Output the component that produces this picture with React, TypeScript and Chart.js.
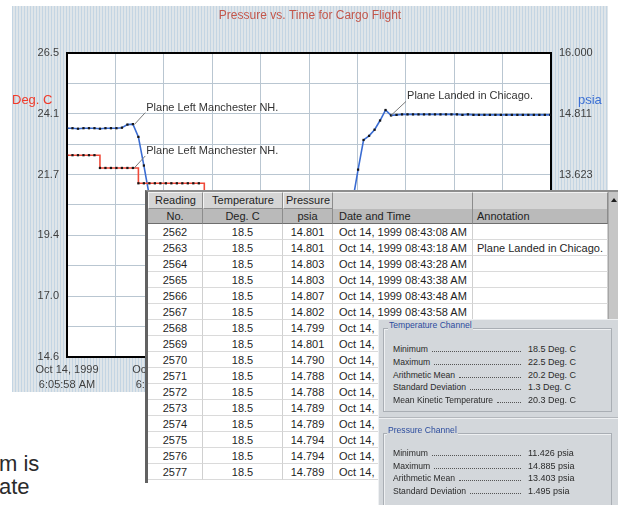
import React, { useEffect, useRef } from "react";
import { Chart, registerables } from "chart.js";

Chart.register(...registerables);
Chart.defaults.font.family = 'Arial, "Liberation Sans", sans-serif';

const chartTitle = "Pressure vs. Time for Cargo Flight";
const tempAxisTitle = "Deg. C";
const pressAxisTitle = "psia";

// seconds after Oct 14, 1999 6:05:58 AM
const sampleSeconds = [
  0, 160, 320, 480, 640, 800, 960, 1120, 1280, 1440,
  1600, 1760, 1920, 2080, 2240, 2400, 2560, 2720, 2880, 3040,
  3200, 3360, 3520, 3680, 3840, 4000, 4160, 4320, 4480, 4640,
  4800, 4960, 5120, 5280, 5440, 5600, 5760, 5920, 6080, 6240,
  6400, 6560, 6720, 6880, 7040, 7200, 7360, 7520, 7680, 7840,
  8000, 8160, 8320, 8480, 8640, 8800, 8960, 9120, 9280, 9440,
  9600, 9760, 9920, 10080, 10240, 10400, 10560, 10720, 10880, 11040,
  11200, 11360, 11520, 11680, 11840, 12000, 12160, 12320, 12480, 12640,
  12800, 12960, 13120, 13280, 13440, 13600, 13760, 13920, 14080,
];

const temperatureDegC = [
  22.5, 22.5, 22.5, 22.5, 22.5, 22.5, 22.0, 22.0, 22.0, 22.0,
  22.0, 22.0, 22.0, 21.4, 21.4, 21.4, 21.4, 21.4, 21.4, 21.4,
  21.4, 21.4, 21.4, 21.4, 21.4, 21.0, 21.0, 21.0, 21.0, 21.0,
  21.0, 21.0, 21.0, 21.0, 21.0, 21.0, 21.0, 21.0, 21.0, 20.5,
  20.5, 20.5, 20.5, 20.5, 20.5, 20.5, 20.5, 20.5, 19.6, 19.6,
  19.6, 19.6, 19.6, 19.6, 19.6, 18.5, 18.5, 18.5, 18.5, 18.5,
  18.5, 18.5, 18.5, 18.5, 18.5, 18.5, 18.5, 18.5, 18.5, 18.5,
  18.5, 18.5, 18.5, 18.5, 18.5, 18.5, 18.5, 18.5, 18.5, 18.5,
  18.5, 18.5, 18.5, 18.5, 18.5, 18.5, 18.5, 18.5, 18.5,
];

const pressurePsia = [
  14.53, 14.53, 14.52, 14.53, 14.53, 14.53, 14.52, 14.53, 14.53, 14.53,
  14.54, 14.6, 14.61, 14.36, 13.8, 13.2, 12.6, 12.05, 11.68, 11.52,
  11.47, 11.46, 11.45, 11.44, 11.44, 11.43, 11.43, 11.426, 11.43, 11.44,
  11.45, 11.45, 11.46, 11.46, 11.45, 11.45, 11.44, 11.44, 11.45, 11.46,
  11.47, 11.48, 11.5, 11.52, 11.55, 11.6, 11.66, 11.74, 11.85, 11.98,
  12.2, 12.6, 13.1, 13.72, 14.3, 14.38, 14.5, 14.68, 14.885, 14.78,
  14.79, 14.8, 14.8, 14.8, 14.8, 14.8, 14.8, 14.8, 14.8, 14.8,
  14.8, 14.8, 14.79, 14.8, 14.79, 14.79, 14.79, 14.79, 14.79, 14.79,
  14.79, 14.79, 14.79, 14.79, 14.79, 14.79, 14.79, 14.79, 14.79,
];

const xMinSeconds = 0;
const xMaxSeconds = 14100;
const xTickDates = ["Oct 14, 1999", "Oct 14, 1999", "Oct 14, 1999", "Oct 14, 1999", "Oct 14, 1999", "Oct 14, 1999"];
const xTickTimes = ["6:05:58 AM", "6:52:58 AM", "7:39:58 AM", "8:26:58 AM", "9:13:58 AM", "10:00:58 AM"];

const tempMin = 14.6;
const tempMax = 26.5;
const tempTickLabels = ["14.6", "17.0", "19.4", "21.7", "24.1", "26.5"];
const pressMin = 10.057;
const pressMax = 16.0;
const pressTickLabels = ["10.057", "11.246", "12.434", "13.623", "14.811", "16.000"];

const annotationTexts = ["Plane Left Manchester NH.", "Plane Left Manchester NH.", "Plane Landed in Chicago."];
const annotationSeconds = [1960, 1960, 9440];
const annotationValues = [14.6, 22.0, 14.78];
const annotationAxes = ["yP", "yT", "yP"];

const readingNos = ["2562", "2563", "2564", "2565", "2566", "2567", "2568", "2569", "2570", "2571", "2572", "2573", "2574", "2575", "2576", "2577"];
const readingTemps = ["18.5", "18.5", "18.5", "18.5", "18.5", "18.5", "18.5", "18.5", "18.5", "18.5", "18.5", "18.5", "18.5", "18.5", "18.5", "18.5"];
const readingPress = ["14.801", "14.801", "14.803", "14.803", "14.807", "14.802", "14.799", "14.801", "14.790", "14.788", "14.788", "14.789", "14.789", "14.794", "14.794", "14.789"];
const readingTimes = [
  "Oct 14, 1999 08:43:08 AM", "Oct 14, 1999 08:43:18 AM", "Oct 14, 1999 08:43:28 AM", "Oct 14, 1999 08:43:38 AM",
  "Oct 14, 1999 08:43:48 AM", "Oct 14, 1999 08:43:58 AM", "Oct 14, 1999 08:44:08 AM", "Oct 14, 1999 08:44:18 AM",
  "Oct 14, 1999 08:44:28 AM", "Oct 14, 1999 08:44:38 AM", "Oct 14, 1999 08:44:48 AM", "Oct 14, 1999 08:44:58 AM",
  "Oct 14, 1999 08:45:08 AM", "Oct 14, 1999 08:45:18 AM", "Oct 14, 1999 08:45:28 AM", "Oct 14, 1999 08:45:38 AM",
];
const readingNotes = ["", "Plane Landed in Chicago.", "", "", "", "", "", "", "", "", "", "", "", "", "", ""];

const tempStatLabels = ["Minimum", "Maximum", "Arithmetic Mean", "Standard Deviation", "Mean Kinetic Temperature"];
const tempStatValues = ["18.5 Deg. C", "22.5 Deg. C", "20.2 Deg. C", "1.3 Deg. C", "20.3 Deg. C"];
const pressStatLabels = ["Minimum", "Maximum", "Arithmetic Mean", "Standard Deviation"];
const pressStatValues = ["11.426 psia", "14.885 psia", "13.403 psia", "1.495 psia"];

const FONT = 'Arial, "Liberation Sans", sans-serif';
const GRID = "#b9c6d1";
const TICK = "#3f3f3f";

const gridValues = (min: number, max: number) =>
  Array.from({ length: 11 }, (_, i) => ({ value: min + (i * (max - min)) / 10 }));

const decorPlugin = {
  id: "decor",
  beforeDraw(chart: any) {
    const { ctx, chartArea: a } = chart;
    ctx.save();
    ctx.fillStyle = "#ffffff";
    ctx.fillRect(a.left, a.top, a.right - a.left, a.bottom - a.top);
    ctx.restore();
  },
  beforeDatasetsDraw(chart: any) {
    const { ctx, chartArea: a } = chart;
    ctx.save();
    ctx.strokeStyle = "#000";
    ctx.lineWidth = 2;
    ctx.strokeRect(a.left, a.top, a.right - a.left, a.bottom - a.top);
    ctx.restore();
  },
  afterDatasetsDraw(chart: any) {
    const { ctx, chartArea: a } = chart;
    ctx.save();
    const offs = [[11, -12], [11, -12], [15, -14]];
    annotationTexts.forEach((t, i) => {
      const x = chart.scales.x.getPixelForValue(annotationSeconds[i]);
      const y = chart.scales[annotationAxes[i]].getPixelForValue(annotationValues[i]);
      const ex = x + offs[i][0];
      const ey = y + offs[i][1];
      ctx.strokeStyle = "#7a7a7a";
      ctx.lineWidth = 1;
      ctx.beginPath();
      ctx.moveTo(x, y);
      ctx.lineTo(ex, ey);
      ctx.stroke();
      ctx.fillStyle = "#333";
      ctx.font = `11px ${FONT}`;
      ctx.textBaseline = "middle";
      ctx.textAlign = "left";
      ctx.fillText(t, ex + 1, ey - 5);
    });
    ctx.font = `13px ${FONT}`;
    ctx.textBaseline = "middle";
    ctx.fillStyle = "#f03a2a";
    ctx.textAlign = "left";
    ctx.fillText(tempAxisTitle, a.left - 55, a.top + 47);
    ctx.fillStyle = "#3a6fd4";
    ctx.fillText(pressAxisTitle, a.right + 27, a.top + 47);
    ctx.restore();
  },
};

function StatRows({ labels, values, top, step }: { labels: string[]; values: string[]; top: number; step: number }) {
  return (
    <>
      {labels.map((l, i) => (
        <div key={l + i} style={{ position: "absolute", left: 14, top: top + i * step, height: 12, width: 200, fontSize: 8.6, lineHeight: "12px", color: "#2a2a2a" }}>
          <div style={{ position: "absolute", left: 0, top: 0, width: 130, display: "flex", alignItems: "baseline" }}>
            <span style={{ whiteSpace: "nowrap" }}>{l}</span>
            <span style={{ flex: 1, borderBottom: "1px dotted #555", margin: "0 2px 0 4px", height: 8 }} />
          </div>
          <span style={{ position: "absolute", left: 135, top: 0, whiteSpace: "nowrap", fontSize: 9 }}>{values[i]}</span>
        </div>
      ))}
    </>
  );
}

function StatsPanel() {
  const panelBg = "#d3d7db";
  return (
    <div style={{ position: "absolute", left: 378, top: 319, width: 240, height: 186, background: panelBg, borderLeft: "1px solid #eef0f2", borderTop: "1px solid #eef0f2", boxSizing: "border-box", fontFamily: FONT, zIndex: 3 }}>
      <div style={{ position: "absolute", left: 4, top: 8, width: 229, height: 84, border: "1px solid #a9aeb4", boxShadow: "inset 1px 1px 0 #eef0f2", boxSizing: "border-box" }} />
      <span style={{ position: "absolute", left: 9, top: 0, height: 11, lineHeight: "11px", fontSize: 8.6, color: "#2c4c9e", background: panelBg, padding: "0 1px" }}>Temperature Channel</span>
      <StatRows labels={tempStatLabels} values={tempStatValues} top={23} step={12.8} />
      <div style={{ position: "absolute", left: 0, top: 97, width: 240, height: 0, borderTop: "1px solid #b3b7bc", borderBottom: "1px solid #eef0f2" }} />
      <div style={{ position: "absolute", left: 4, top: 113, width: 229, height: 90, border: "1px solid #a9aeb4", boxShadow: "inset 1px 1px 0 #eef0f2", boxSizing: "border-box" }} />
      <span style={{ position: "absolute", left: 8, top: 105, height: 11, lineHeight: "11px", fontSize: 8.6, color: "#2c4c9e", background: panelBg, padding: "0 1px" }}>Pressure Channel</span>
      <StatRows labels={pressStatLabels} values={pressStatValues} top={127} step={12.7} />
    </div>
  );
}

function DataTable() {
  const cols = [0, 55, 135, 185, 325, 460];
  const hdr1 = ["Reading", "Temperature", "Pressure", "", ""];
  const hdr2 = ["No.", "Deg. C", "psia", "Date and Time", "Annotation"];
  const rows = readingNos.map((n, i) => [n, readingTemps[i], readingPress[i], readingTimes[i], readingNotes[i]]);
  const cell = (c: number, top: number, h: number, text: string, extra: any, key: string) => (
    <div key={key} style={{ position: "absolute", left: cols[c], top, width: cols[c + 1] - cols[c], height: h, lineHeight: h + "px", textAlign: c < 3 ? "center" : "left", paddingLeft: c < 3 ? 0 : c === 3 ? 6 : 4, boxSizing: "border-box", whiteSpace: "nowrap", overflow: "hidden", ...extra }}>{text}</div>
  );
  return (
    <div style={{ position: "absolute", left: 145, top: 190, width: 473, height: 293, borderLeft: "3px solid #626262", borderTop: "2px solid #8e8e8e", boxSizing: "border-box", background: "#fff", fontFamily: FONT, fontSize: 11, color: "#1f1f1f", zIndex: 2 }}>
      <div style={{ position: "absolute", left: 0, top: 0, width: 460, height: 17, background: "#d5d5d5" }} />
      <div style={{ position: "absolute", left: 0, top: 17, width: 460, height: 15, background: "#bababa" }} />
      {hdr1.map((t, c) => cell(c, 0, 17, t, { borderRight: "1px solid #8c8c8c", borderBottom: c < 3 ? "1px solid #8c8c8c" : "none", borderTop: "1px solid #f2f2f2", borderLeft: c < 3 ? "1px solid #f2f2f2" : "none", lineHeight: "15px" }, "h1" + c))}
      {hdr2.map((t, c) => cell(c, 17, 15, t, { borderRight: "1px solid #8c8c8c", borderBottom: "1px solid #6e6e6e", lineHeight: "14px" }, "h2" + c))}
      {rows.map((r, ri) =>
        r.map((t, c) => cell(c, 32 + ri * 16, 16, t, { borderRight: "1px solid #d0d0d0", borderBottom: "1px solid #dadada" }, `r${ri}c${c}`))
      )}
      <div style={{ position: "absolute", left: 460, top: 0, width: 10, height: 291, background: "#c6c6c6", borderLeft: "1px solid #a6a6a6", boxSizing: "border-box" }}>
        <div style={{ position: "absolute", left: 2, top: 6, width: 0, height: 0, borderLeft: "3px solid transparent", borderRight: "3px solid transparent", borderBottom: "4px solid #1e1e1e" }} />
      </div>
    </div>
  );
}

export default function App() {
  const ref = useRef<HTMLCanvasElement>(null);
  useEffect(() => {
    const tempPoints = sampleSeconds.map((s, i) => ({ x: s, y: temperatureDegC[i] }));
    const pressPoints = sampleSeconds.map((s, i) => ({ x: s, y: pressurePsia[i] }));
    const chart = new Chart(ref.current as HTMLCanvasElement, {
      type: "line",
      data: {
        datasets: [
          {
            label: "Temperature",
            data: tempPoints,
            yAxisID: "yT",
            borderColor: "#ef4a3a",
            borderWidth: 1.6,
            stepped: true,
            pointStyle: "rect",
            pointRadius: 1.6,
            pointBackgroundColor: "#151515",
            pointBorderWidth: 0,
          },
          {
            label: "Pressure",
            data: pressPoints,
            yAxisID: "yP",
            borderColor: "#3a6cd2",
            borderWidth: 1.6,
            tension: 0,
            pointStyle: "rect",
            pointRadius: 1.6,
            pointBackgroundColor: "#151515",
            pointBorderWidth: 0,
          },
        ],
      } as any,
      options: {
        animation: false,
        responsive: false,
        maintainAspectRatio: false,
        layout: { padding: 0 },
        plugins: {
          legend: { display: false },
          tooltip: { enabled: false },
          title: {
            display: true,
            text: chartTitle,
            color: "#c2574c",
            font: { family: FONT, size: 12, weight: "normal" },
            padding: { top: 2, bottom: 30.6 },
          },
        },
        scales: {
          x: {
            type: "linear",
            min: xMinSeconds,
            max: xMaxSeconds,
            afterBuildTicks: (ax: any) => { ax.ticks = gridValues(xMinSeconds, xMaxSeconds); },
            afterFit: (s: any) => { s.height = 35; },
            grid: { color: GRID, lineWidth: 1, drawTicks: false },
            border: { display: false },
            ticks: {
              autoSkip: false,
              maxRotation: 0,
              padding: 6,
              color: TICK,
              font: { size: 11, lineHeight: 1.35 },
              callback: (_v: any, i: number) => (i % 2 === 0 ? [xTickDates[i / 2], xTickTimes[i / 2]] : ""),
            },
          },
          yT: {
            type: "linear",
            position: "left",
            min: tempMin,
            max: tempMax,
            afterBuildTicks: (ax: any) => { ax.ticks = gridValues(tempMin, tempMax); },
            afterFit: (s: any) => { s.width = 55; },
            grid: { color: GRID, lineWidth: 1, drawTicks: false },
            border: { display: false },
            ticks: {
              autoSkip: false,
              padding: 8,
              color: TICK,
              font: { size: 11 },
              callback: (_v: any, i: number) => (i % 2 === 0 ? tempTickLabels[i / 2] : ""),
            },
          },
          yP: {
            type: "linear",
            position: "right",
            min: pressMin,
            max: pressMax,
            afterBuildTicks: (ax: any) => { ax.ticks = gridValues(pressMin, pressMax); },
            afterFit: (s: any) => { s.width = 57; },
            grid: { drawOnChartArea: false, drawTicks: false },
            border: { display: false },
            ticks: {
              autoSkip: false,
              padding: 8,
              color: TICK,
              font: { size: 11 },
              callback: (_v: any, i: number) => (i % 2 === 0 ? pressTickLabels[i / 2] : ""),
            },
          },
        },
      } as any,
      plugins: [decorPlugin],
    });
    return () => chart.destroy();
  }, []);

  const stripes = "repeating-linear-gradient(90deg, #c4d5e3 0px, #c4d5e3 1px, #dfe5e9 1px, #dfe5e9 3px)";

  return (
    <div style={{ position: "absolute", left: 0, top: 0, width: 618, height: 505, overflow: "hidden", background: "#fff", fontFamily: FONT }}>
      <div style={{ position: "absolute", left: 12, top: 6, width: 596, height: 386, background: stripes }}>
        <canvas ref={ref} width={596} height={386} style={{ display: "block" }} />
      </div>
      <DataTable />
      <StatsPanel />
      <div style={{ position: "absolute", left: -1, top: 452, fontSize: 22, lineHeight: "23px", color: "#2b2b2b", whiteSpace: "nowrap" }}>
        <div>m is</div>
        <div>ate</div>
      </div>
    </div>
  );
}
